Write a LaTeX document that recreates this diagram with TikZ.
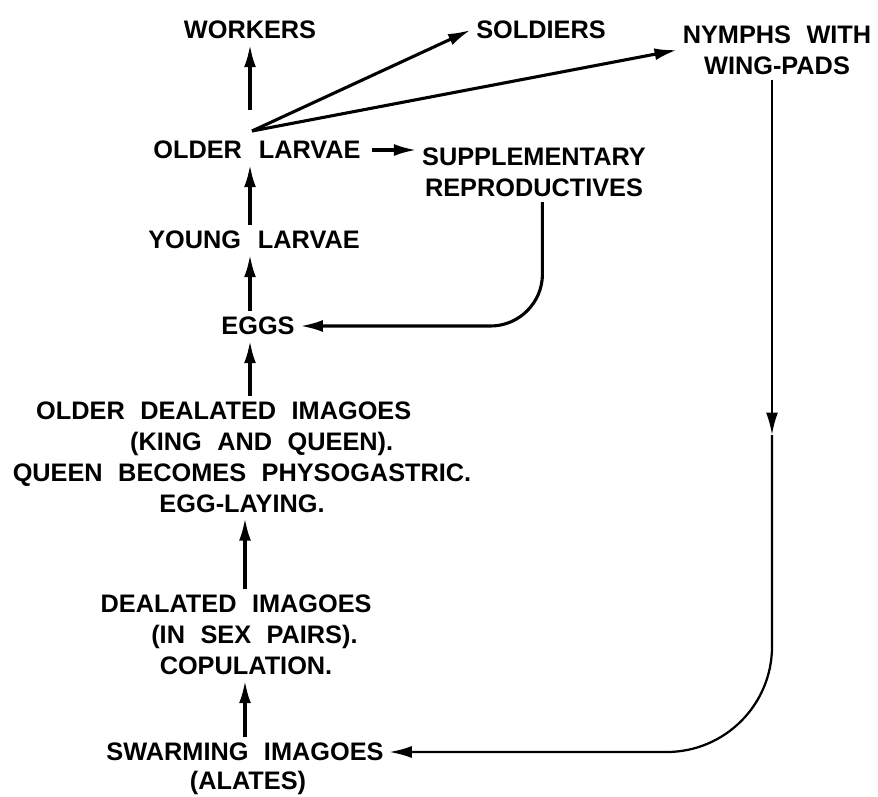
\documentclass[tikz,border=0pt]{standalone}
\usepackage{fontspec}
\setmainfont{Liberation Sans}[WordSpace=2.2]
\usetikzlibrary{arrows.meta}

\begin{document}
\begin{tikzpicture}[
  x=0.025cm, y=-0.025cm,
  >={Latex[length=16pt,width=8.5pt]},
  line width=2.2pt,
  lbl/.style={inner sep=3pt, align=center, font=\fontsize{18}{22}\selectfont\bfseries}
]
\useasboundingbox (0,0) rectangle (878,796);

\node[lbl] (workers) at (250,30) {WORKERS};
\node[lbl] (soldiers) at (541,30) {SOLDIERS};
\node[lbl] (nymphs) at (777,50) {NYMPHS WITH\\WING-PADS};

\node[lbl] (larvae) at (257,150) {OLDER\hspace{12pt}LARVAE};
\node[lbl] (supp) at (534,172) {SUPPLEMENTARY\\REPRODUCTIVES};
\node[lbl] (young) at (254,240) {YOUNG\hspace{12pt}LARVAE};
\node[lbl] (eggs) at (258,326) {EGGS};

\node[lbl] (olddeal) at (242,457) {OLDER DEALATED IMAGOES\hspace*{26pt}\\\hspace*{28pt}(KING AND QUEEN).\\QUEEN BECOMES PHYSOGASTRIC.\\EGG-LAYING.};
\node[lbl] (dealt) at (246,635) {DEALATED IMAGOES\hspace*{14pt}\\\hspace*{12pt}(IN SEX PAIRS).\\COPULATION.};
\node[lbl] (swarm) at (245,752) {SWARMING IMAGOES};
\node[lbl] (alates) at (248,783) {(ALATES)};

% castes from the older larvae
\coordinate (fork) at (252,131);
\draw[->, shorten <=15pt] (fork -| workers) -- (workers.south);
\draw[->] (fork) -- (soldiers.west);
\draw[->] (fork) -- (nymphs.west);
\draw[->, shorten <=4pt] (larvae.east) -- (larvae.east -| supp.west);

% main line of the colony
\draw[->] (young.north -| workers) -- (larvae.south -| workers);
\draw[->] (eggs.north -| workers) -- (young.south -| workers);
\draw[->] (olddeal.north -| workers) -- (eggs.south -| workers);
\draw[->] (dealt.north -| swarm) -- (olddeal.south -| swarm);
\draw[->] (swarm.north) -- (dealt.south -| swarm);

% back to eggs and to the swarm
\draw[->, rounded corners=37pt] ([xshift=6pt]supp.south) |- (eggs.east);
\coordinate (mid) at (772,435);
\draw[->, line width=1.6pt] (nymphs.south -| mid) -- (mid);
\draw[->, line width=1.6pt, rounded corners=75pt] (mid) |- (swarm.east);

\end{tikzpicture}
\end{document}
